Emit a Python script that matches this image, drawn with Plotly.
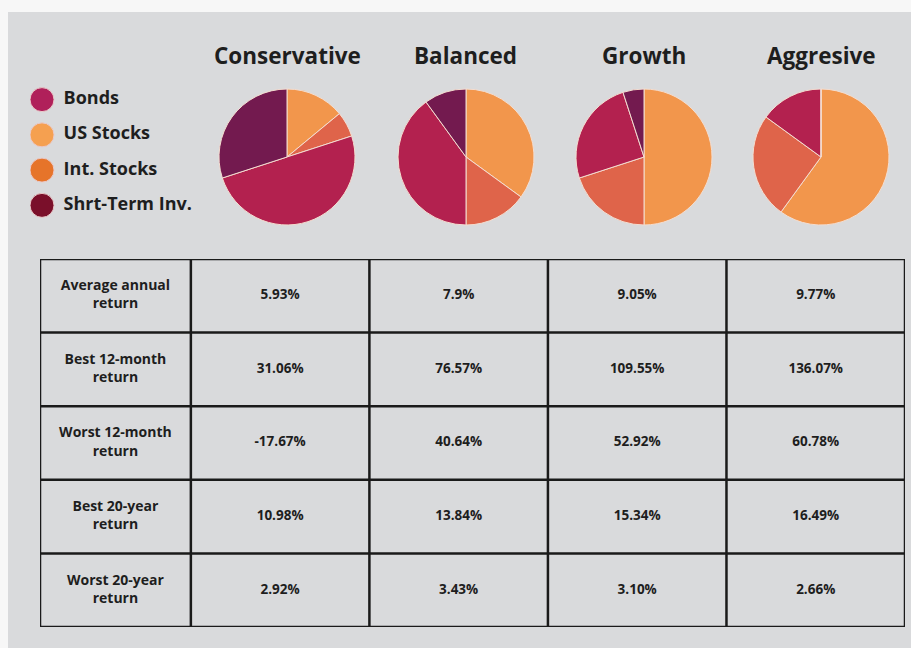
import plotly.graph_objects as go

# ---- data ----
portfolios = ["Conservative", "Balanced", "Growth", "Aggresive"]
assets = ["US Stocks", "Int. Stocks", "Bonds", "Shrt-Term Inv."]
legend_order = ["Bonds", "US Stocks", "Int. Stocks", "Shrt-Term Inv."]

# allocation (%) per portfolio, in the order of `assets`
conservative_alloc = [14, 6, 50, 30]
balanced_alloc = [35, 15, 40, 10]
growth_alloc = [50, 20, 25, 5]
aggresive_alloc = [60, 25, 15, 0]

metrics = [
    "Average annual<br>return",
    "Best 12-month<br>return",
    "Worst 12-month<br>return",
    "Best 20-year<br>return",
    "Worst 20-year<br>return",
]
conservative_stats = ["5.93%", "31.06%", "-17.67%", "10.98%", "2.92%"]
balanced_stats = ["7.9%", "76.57%", "40.64%", "13.84%", "3.43%"]
growth_stats = ["9.05%", "109.55%", "52.92%", "15.34%", "3.10%"]
aggresive_stats = ["9.77%", "136.07%", "60.78%", "16.49%", "2.66%"]

# ---- styling ----
W, H = 911, 648
PANEL = "#d9dadc"
TEXT = "#1e1e1e"
FONT = "Open Sans"
pie_colors = {"US Stocks": "#f2964c", "Int. Stocks": "#df644a",
              "Bonds": "#b3214f", "Shrt-Term Inv.": "#731a4f"}
legend_colors = {"Bonds": "#b0205a", "US Stocks": "#f5a050",
                 "Int. Stocks": "#e6742a", "Shrt-Term Inv.": "#7a0f2a"}


def px_x(x):
    return x / W


def px_y(y):
    return 1 - y / H


fig = go.Figure()

# ---- pies ----
allocs = [conservative_alloc, balanced_alloc, growth_alloc, aggresive_alloc]
pie_centers = [287, 466, 644, 821]
pie_cy, pie_r = 157, 68
for name, alloc, cx in zip(portfolios, allocs, pie_centers):
    fig.add_trace(go.Pie(
        labels=assets, values=alloc, sort=False, direction="clockwise",
        rotation=0, textinfo="none", hoverinfo="label+percent",
        marker=dict(colors=[pie_colors[a] for a in assets],
                    line=dict(color="#f4ddd0", width=1)),
        domain=dict(x=[px_x(cx - pie_r), px_x(cx + pie_r)],
                    y=[px_y(pie_cy + pie_r), px_y(pie_cy - pie_r)]),
        showlegend=False, name=name,
    ))
    fig.add_annotation(x=px_x(cx), y=px_y(55), xref="paper", yref="paper",
                       xanchor="center", yanchor="middle",
                       text=f"<b>{name}</b>", showarrow=False,
                       font=dict(family=FONT, size=22.5, color=TEXT))

# ---- custom legend (round swatches) ----
fig.add_trace(go.Scatter(
    x=[0] * len(legend_order), y=list(range(len(legend_order))),
    mode="markers",
    marker=dict(size=24, color=[legend_colors[n] for n in legend_order],
                line=dict(color="#e9c9c9", width=1)),
    xaxis="x2", yaxis="y2", showlegend=False, hoverinfo="skip",
))
fig.add_trace(go.Scatter(
    x=[0.9] * len(legend_order), y=list(range(len(legend_order))),
    mode="text", text=[f"<b>{n}</b>" for n in legend_order],
    textposition="middle right",
    textfont=dict(family=FONT, size=18, color=TEXT),
    xaxis="x2", yaxis="y2", showlegend=False, hoverinfo="skip",
))

# ---- table ----
col_edges = [0, 0.845, 1.845, 2.845, 3.845, 4.845]
n_rows = len(metrics)
columns = [metrics, conservative_stats, balanced_stats, growth_stats, aggresive_stats]
for ci, col in enumerate(columns):
    xc = (col_edges[ci] + col_edges[ci + 1]) / 2
    fig.add_trace(go.Scatter(
        x=[xc] * n_rows, y=[r + 0.5 for r in range(n_rows)],
        mode="text", text=[f"<b>{v}</b>" for v in col],
        textposition="middle center",
        textfont=dict(family=FONT, size=14 if ci == 0 else 13.5, color=TEXT),
        xaxis="x3", yaxis="y3", showlegend=False, hoverinfo="skip",
    ))

line_style = dict(color="#1a1a1a", width=2.5)
for xe in col_edges:
    fig.add_shape(type="line", xref="x3", yref="y3", x0=xe, x1=xe,
                  y0=0, y1=n_rows, line=line_style)
for r in range(n_rows + 1):
    fig.add_shape(type="line", xref="x3", yref="y3", x0=col_edges[0],
                  x1=col_edges[-1], y0=r, y1=r, line=line_style)

# gray card behind everything
fig.add_shape(type="rect", xref="paper", yref="paper", layer="below",
              x0=px_x(8), x1=1, y0=0, y1=px_y(12),
              fillcolor=PANEL, line=dict(width=0))

hidden = dict(visible=False, fixedrange=True)
fig.update_layout(
    width=W, height=H, margin=dict(l=0, r=0, t=0, b=0),
    paper_bgcolor="#f7f7f7", plot_bgcolor="rgba(0,0,0,0)",
    xaxis2=dict(domain=[px_x(30), px_x(200)], range=[-0.5, 6.58], **hidden),
    yaxis2=dict(domain=[px_y(223), px_y(82)], range=[3.5, -0.5],
                anchor="x2", **hidden),
    xaxis3=dict(domain=[px_x(40), px_x(905)], range=[col_edges[0], col_edges[-1]],
                anchor="y3", **hidden),
    yaxis3=dict(domain=[px_y(627), px_y(259)], range=[n_rows, 0],
                anchor="x3", **hidden),
    xaxis=dict(visible=False), yaxis=dict(visible=False),
)

fig.write_html("out.html")
